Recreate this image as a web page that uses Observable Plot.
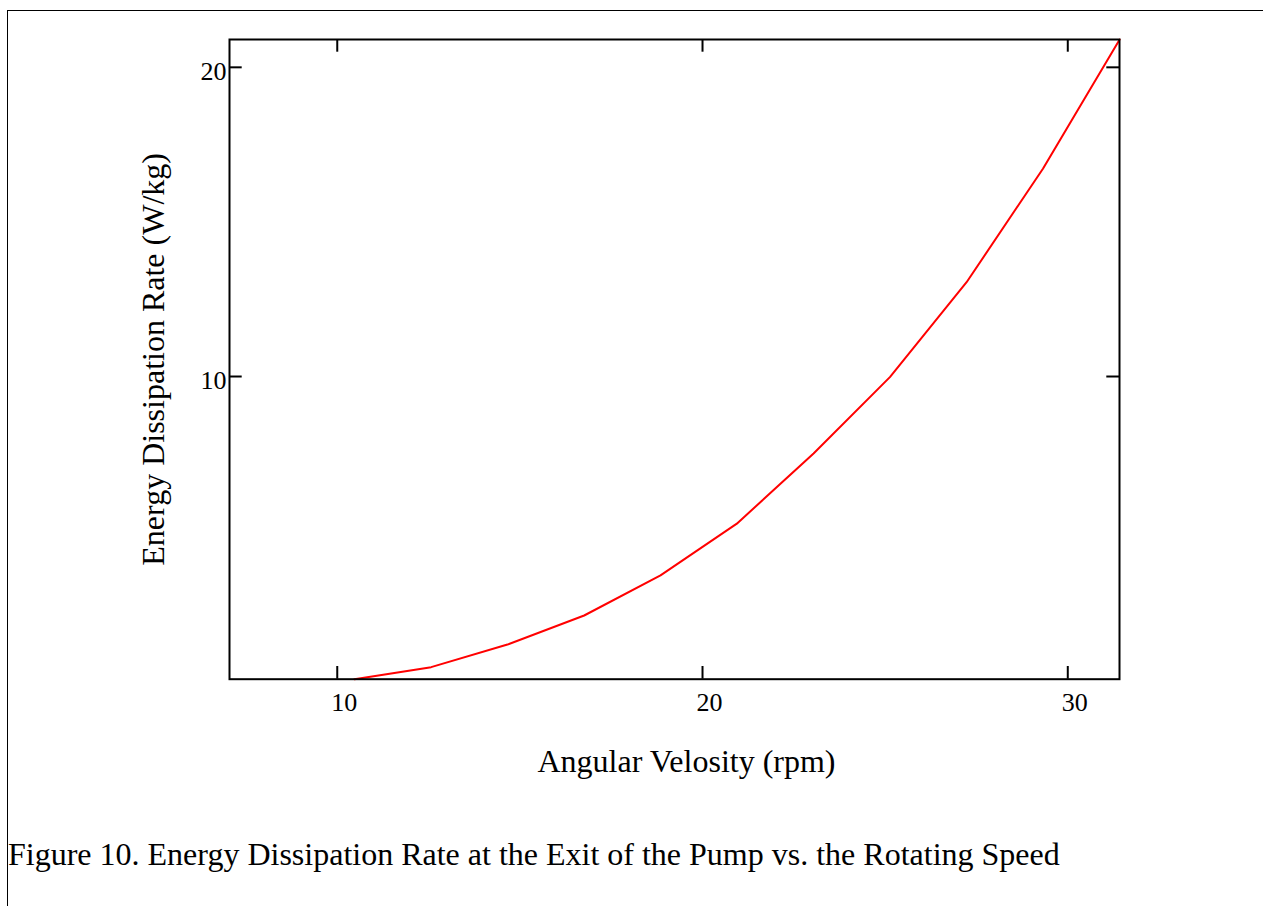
<!DOCTYPE html>
<html>
<head>
<meta charset="utf-8">
<script src="https://cdn.jsdelivr.net/npm/d3@7"></script>
<script src="https://cdn.jsdelivr.net/npm/@observablehq/plot@0.6"></script>
<style>
  html, body { margin: 0; padding: 0; background: #fff; overflow: hidden; width: 1263px; height: 906px; }
  #chart { position: absolute; left: 0; top: 0; }
  #page { position: absolute; left: 7px; top: 10px; width: 1400px; height: 1000px; border-left: 1px solid #000; border-top: 1px solid #000; pointer-events: none; }
  #caption { position: absolute; left: 8px; top: 836px; font-family: "Liberation Serif", "Times New Roman", serif; font-size: 32px; color: #000; white-space: nowrap; }
</style>
</head>
<body>
<div id="chart"></div>
<div id="page"></div>
<div id="caption">Figure 10. Energy Dissipation Rate at the Exit of the Pump vs. the Rotating Speed</div>
<script>
const angularVelocity = [10.47, 12.57, 14.66, 16.76, 18.85, 20.94, 23.04, 25.13, 27.23, 29.32, 31.42];
const dissipationRate = [0.21, 0.60, 1.33, 2.27, 3.57, 5.24, 7.51, 9.98, 13.05, 16.72, 20.9];
const xTicks = [10, 20, 30];
const yTicks = [10, 20];
const xTitle = "Angular Velosity (rpm)";
const yTitle = "Energy Dissipation Rate (W/kg)";

const data = angularVelocity.map((x, i) => ({x, y: dissipationRate[i]}));

const W = 1263, H = 800;
const mL = 229, mR = 144, mT = 39, mB = 121.3;
const innerW = W - mL - mR, innerH = H - mT - mB;
const tick = 12.7;

const chart = Plot.plot({
  width: W,
  height: H,
  marginLeft: mL,
  marginRight: mR,
  marginTop: mT,
  marginBottom: mB,
  style: {fontFamily: "'Liberation Serif', 'Times New Roman', serif", fontSize: "26px", color: "#000", background: "transparent", overflow: "visible"},
  x: {domain: [7.05, 31.416]},
  y: {domain: [0.21, 20.9]},
  marks: [
    Plot.line(data, {x: "x", y: "y", stroke: "#ff0000", strokeWidth: 2}),
    Plot.tickX(xTicks, {x: d => d, insetTop: innerH - tick, stroke: "#000", strokeWidth: 2}),
    Plot.tickX(xTicks, {x: d => d, insetBottom: innerH - tick, stroke: "#000", strokeWidth: 2}),
    Plot.tickY(yTicks, {y: d => d, insetRight: innerW - tick, stroke: "#000", strokeWidth: 2}),
    Plot.tickY(yTicks, {y: d => d, insetLeft: innerW - tick, stroke: "#000", strokeWidth: 2}),
    Plot.frame({stroke: "#000", strokeWidth: 2}),
    Plot.axisX({ticks: xTicks, tickSize: 0, tickPadding: 13, dx: 7, label: null, fill: "#000", fontSize: 26}),
    Plot.axisY({ticks: yTicks, tickSize: 0, tickPadding: 3, dy: 4.5, label: null, fill: "#000", fontSize: 26}),
    Plot.text([xTitle], {text: d => d, frameAnchor: "bottom", textAnchor: "middle", dy: 93, dx: 12, fontSize: 32, fill: "#000"}),
    Plot.text([yTitle], {text: d => d, frameAnchor: "left", textAnchor: "middle", rotate: -90, dx: -76, fontSize: 32, fill: "#000"})
  ]
});
document.getElementById("chart").appendChild(chart);
</script>
</body>
</html>
